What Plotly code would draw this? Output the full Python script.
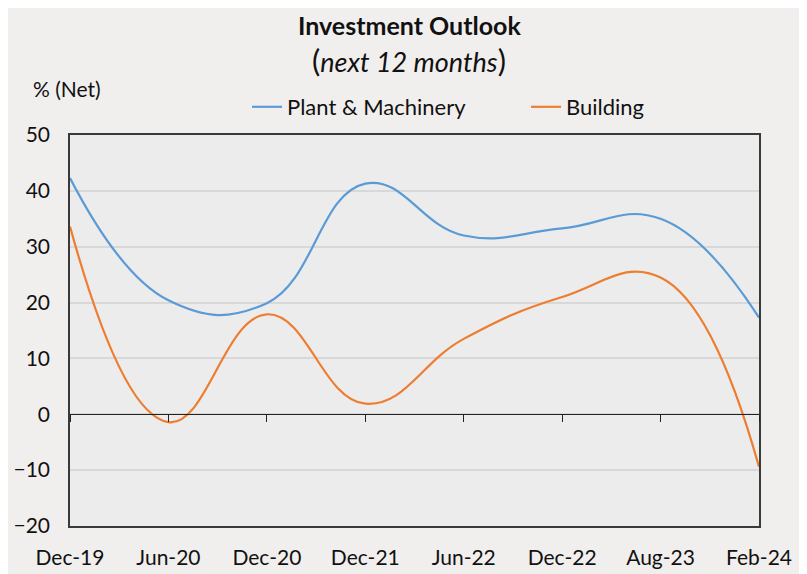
import plotly.graph_objects as go

# Data
periods = ["Dec-19", "Jun-20", "Dec-20", "Dec-21", "Jun-22", "Dec-22", "Aug-23", "Feb-24"]
plant_machinery = [42.3, 20.4, 19.9, 41.3, 32.0, 33.3, 35.0, 17.3]
building = [33.6, -1.4, 17.9, 1.9, 13.5, 21.0, 24.5, -9.4]
y_ticks = [-20, -10, 0, 10, 20, 30, 40, 50]

blue = '#5B9BD5'
orange = '#ED7D31'
font = 'Lato, "Open Sans", sans-serif'

# page has an 8px body margin, so the figure is drawn 8px in from the corner
OFF = 8
W, H = 807 - OFF, 574 - OFF
# plot area in page pixels: x 70..759, y 135..526
L, R, T, B = 70 - OFF, 807 - 759, 135 - OFF, 574 - 526
plot_w = W - L - R
plot_h = H - T - B


def px_to_paper(x, y):
    # page pixel -> paper coordinates
    return (x - OFF - L) / plot_w, (H - B - (y - OFF)) / plot_h


fig = go.Figure()

fig.add_trace(go.Scatter(
    name='Plant & Machinery', x=periods, y=plant_machinery,
    mode='lines', line=dict(color=blue, width=2.2, shape='spline', smoothing=1.25)
))
fig.add_trace(go.Scatter(
    name='Building', x=periods, y=building,
    mode='lines', line=dict(color=orange, width=2.2, shape='spline', smoothing=1.25)
))
# invisible trace so the zero-line axis (x2) is drawn
fig.add_trace(go.Scatter(
    x=periods, y=[None] * len(periods), xaxis='x2', yaxis='y',
    mode='lines', showlegend=False, hoverinfo='skip'
))

zero_pos = (0 - y_ticks[0]) / (y_ticks[-1] - y_ticks[0])

title_x, title_y = px_to_paper(409, 25)
sub_x, sub_y = px_to_paper(409, 60)
net_x, net_y = px_to_paper(31, 88)
leg_x, leg_y = px_to_paper(247, 107)

fig.update_layout(
    width=W, height=H,
    margin=dict(l=L, r=R, t=T, b=B, autoexpand=False),
    paper_bgcolor='#f1efee',
    plot_bgcolor='#ececec',
    font=dict(family=font, size=21, color='#111111'),
    showlegend=True,
    legend=dict(
        orientation='h', x=leg_x, xanchor='left', y=leg_y, yanchor='middle',
        font=dict(size=22), bgcolor='rgba(0,0,0,0)',
        entrywidth=234, traceorder='normal'
    ),
    xaxis=dict(
        type='category', range=[0, len(periods) - 1], automargin=False,
        showgrid=False, ticks='', showline=True, linecolor='#3a3a3a',
        linewidth=1.5, mirror=True, ticklabelstandoff=12,
        tickfont=dict(size=21)
    ),
    xaxis2=dict(
        type='category', overlaying='x', anchor='free', position=zero_pos,
        range=[0, len(periods) - 1], tickvals=periods, automargin=False,
        showticklabels=False, ticks='outside', ticklen=7, tickcolor='#222222',
        showline=True, linecolor='#222222', linewidth=1.2, showgrid=False
    ),
    yaxis=dict(
        range=[y_ticks[0], y_ticks[-1]], tickvals=y_ticks, automargin=False,
        showgrid=True, gridcolor='#d8d8d8', gridwidth=1.5,
        zeroline=False, ticks='', ticklabelstandoff=14,
        showline=True, linecolor='#3a3a3a', linewidth=1.5, mirror=True,
        tickfont=dict(size=21)
    ),
    annotations=[
        dict(text='<b>Investment Outlook</b>', x=title_x, y=title_y,
             xref='paper', yref='paper', yanchor='middle', borderpad=0,
             showarrow=False, font=dict(size=25)),
        dict(text='<span style="font-size:31px">(</span><i>next 12 months</i>'
                  '<span style="font-size:31px">)</span>',
             x=sub_x, y=sub_y, xref='paper', yref='paper', yanchor='middle',
             borderpad=0, showarrow=False, font=dict(size=27)),
        dict(text='% (Net)', x=net_x, y=net_y, xref='paper', yref='paper',
             yanchor='middle', showarrow=False, font=dict(size=21),
             xanchor='left'),
    ],
)

fig.write_html("out.html")
